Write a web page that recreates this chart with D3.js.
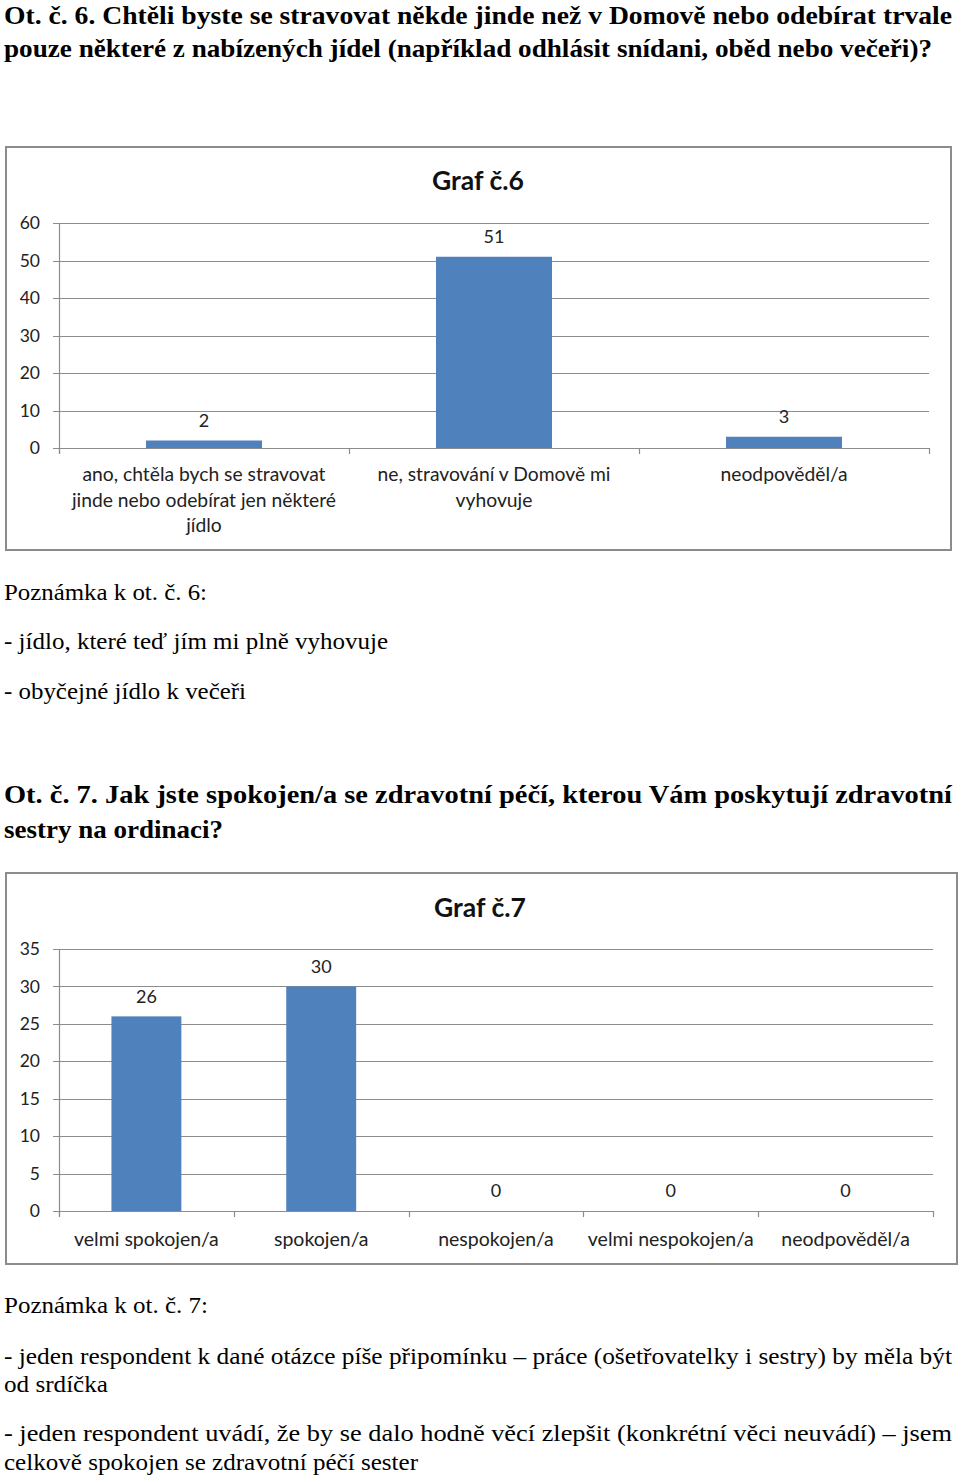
<!DOCTYPE html>
<html><head><meta charset="utf-8">
<script src="https://cdn.jsdelivr.net/npm/d3@7/dist/d3.min.js"></script>
<style>body{margin:0;background:#fff}svg{display:block}</style>
</head><body>
<svg id="c" width="960" height="1478"></svg>
<script>
// ---- data ----
const cats6 = ["ano, chtěla bych se stravovat\njinde nebo odebírat jen některé\njídlo", "ne, stravování v Domově mi\nvyhovuje", "neodpověděl/a"];
const vals6 = [2, 51, 3];
const ticks6 = [0, 10, 20, 30, 40, 50, 60];
const title6 = "Graf č.6";

const cats7 = ["velmi spokojen/a", "spokojen/a", "nespokojen/a", "velmi nespokojen/a", "neodpověděl/a"];
const vals7 = [26, 30, 0, 0, 0];
const ticks7 = [0, 5, 10, 15, 20, 25, 30, 35];
const title7 = "Graf č.7";

// text blocks: [text, baseline y, right edge, bold]
const textLines = [
  ["Ot. č. 6. Chtěli byste se stravovat někde jinde než v Domově nebo odebírat trvale", 24, 952, true],
  ["pouze některé z nabízených jídel (například odhlásit snídani, oběd nebo večeři)?", 57, 932, true],
  ["Poznámka k ot. č. 6:", 600, 207, false],
  ["- jídlo, které teď jím mi plně vyhovuje", 649, 388, false],
  ["- obyčejné jídlo k večeři", 699, 246, false],
  ["Ot. č. 7. Jak jste spokojen/a se zdravotní péčí, kterou Vám poskytují zdravotní", 803, 952, true],
  ["sestry na ordinaci?", 838, 223, true],
  ["Poznámka k ot. č. 7:", 1313, 208, false],
  ["- jeden respondent k dané otázce píše připomínku – práce (ošetřovatelky i sestry) by měla být", 1364, 952, false],
  ["od srdíčka", 1392, 108, false],
  ["- jeden respondent uvádí, že by se dalo hodně věcí zlepšit (konkrétní věci neuvádí) – jsem", 1441, 952, false],
  ["celkově spokojen se zdravotní péčí sester", 1470, 418, false]
];

const svg = d3.select("#c");
textLines.forEach(([t, y, r, b]) => {
  svg.append("text").attr("x", 4).attr("y", y)
    .attr("font-family", "'Times New Roman','Liberation Serif',Tinos,serif")
    .attr("font-size", b ? 26 : 24)
    .attr("font-weight", b ? "bold" : "normal")
    .attr("textLength", r - 4).attr("lengthAdjust", "spacingAndGlyphs")
    .attr("fill", "#000").text(t);
});

function chart(cfg) {
  const g = svg.append("g");
  g.append("rect").attr("x", cfg.box[0]).attr("y", cfg.box[1])
    .attr("width", cfg.box[2]).attr("height", cfg.box[3])
    .attr("fill", "#fff").attr("stroke", "#8c8c8c").attr("stroke-width", 2);
  const x = d3.scaleBand().domain(cfg.cats).range([cfg.x0, cfg.x1]).paddingInner(0.6).paddingOuter(0.3);
  const y = d3.scaleLinear().domain([0, d3.max(cfg.ticks)]).range([cfg.y0, cfg.yTop]);
  const font = "Lato, 'Open Sans', sans-serif";
  // gridlines
  g.selectAll(".grid").data(cfg.ticks).join("line")
    .attr("x1", cfg.x0 - 6).attr("x2", cfg.x1)
    .attr("y1", d => Math.round(y(d)) + 0.5).attr("y2", d => Math.round(y(d)) + 0.5)
    .attr("stroke", "#8c8c8c").attr("stroke-width", 1.2);
  // y axis line
  g.append("line").attr("x1", cfg.x0 + 0.5).attr("x2", cfg.x0 + 0.5)
    .attr("y1", cfg.yTop).attr("y2", cfg.y0 + 6).attr("stroke", "#8c8c8c").attr("stroke-width", 1.2);
  // x ticks
  const bounds = cfg.cats.map(c => x(c) - x.step() * x.paddingInner() / 2).concat([cfg.x1]);
  g.selectAll(".xt").data(bounds).join("line")
    .attr("x1", d => Math.round(d) + 0.5).attr("x2", d => Math.round(d) + 0.5)
    .attr("y1", cfg.y0).attr("y2", cfg.y0 + 6)
    .attr("stroke", "#8c8c8c").attr("stroke-width", 1.2);
  // tick labels
  g.selectAll(".yl").data(cfg.ticks).join("text")
    .attr("x", 40).attr("y", d => y(d)).attr("dy", "0.35em")
    .attr("text-anchor", "end").attr("font-family", font).attr("font-size", 17.5)
    .attr("fill", "#222").text(d => d);
  // bars
  g.selectAll(".bar").data(cfg.vals).join("rect")
    .attr("x", (d, i) => x(cfg.cats[i])).attr("width", x.bandwidth())
    .attr("y", d => y(d)).attr("height", d => cfg.y0 - y(d))
    .attr("fill", "#4f81bd");
  // value labels
  g.selectAll(".vl").data(cfg.vals).join("text")
    .attr("x", (d, i) => x(cfg.cats[i]) + x.bandwidth() / 2)
    .attr("y", d => y(d) - 20).attr("dy", "0.35em")
    .attr("text-anchor", "middle").attr("font-family", font).attr("font-size", 18)
    .attr("fill", "#222").text(d => d);
  // category labels
  cfg.cats.forEach(c => {
    const t = g.append("text").attr("text-anchor", "middle")
      .attr("font-family", font).attr("font-size", cfg.labSize).attr("fill", "#222");
    c.split("\n").forEach((ln, j) => {
      t.append("tspan").attr("x", x(c) + x.bandwidth() / 2)
        .attr("y", cfg.labY + j * 25.5).text(ln);
    });
  });
  // title
  g.append("text").attr("x", cfg.titleX).attr("y", cfg.titleY)
    .attr("text-anchor", "middle").attr("font-family", font)
    .attr("font-weight", "bold").attr("font-size", 26.5).attr("fill", "#111")
    .text(cfg.title);
}

chart({cats: cats6, vals: vals6, ticks: ticks6, title: title6,
  box: [6, 147, 945, 403], x0: 59, x1: 929, y0: 448, yTop: 223,
  labY: 481, labSize: 19.3, titleX: 478, titleY: 190});
chart({cats: cats7, vals: vals7, ticks: ticks7, title: title7,
  box: [6, 873, 951, 391], x0: 59, x1: 933, y0: 1211, yTop: 949,
  labY: 1246, labSize: 19.5, titleX: 480, titleY: 917});
</script>
</body></html>
